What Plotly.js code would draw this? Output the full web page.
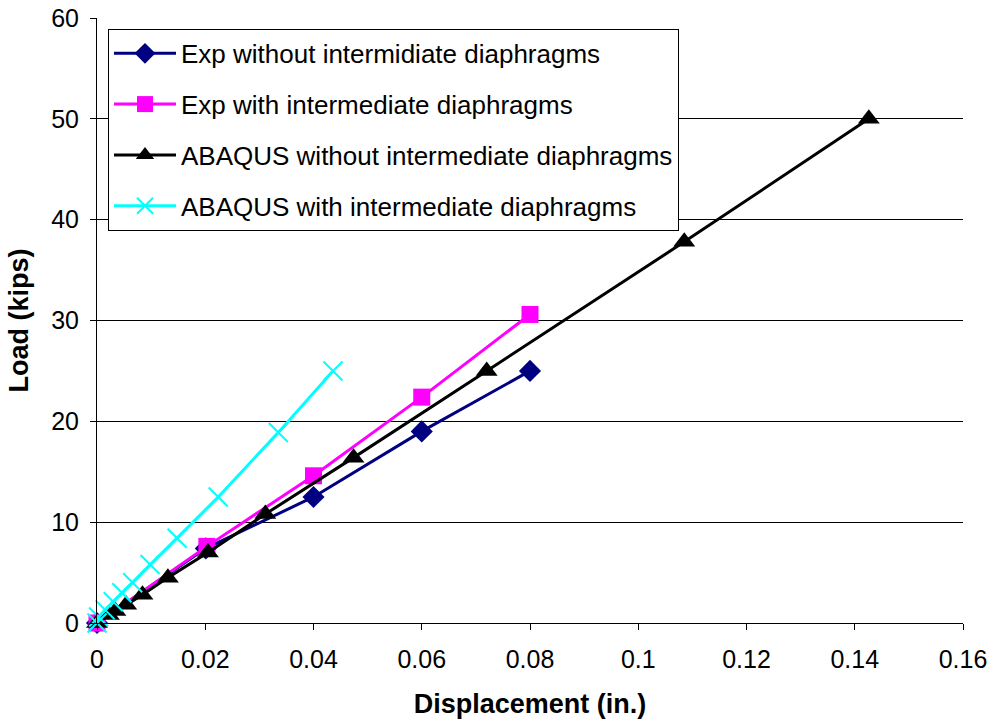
<!DOCTYPE html>
<html>
<head>
<meta charset="utf-8">
<script src="https://cdn.plot.ly/plotly-3.0.1.min.js"></script>
<style>html,body{margin:0;padding:0;background:#fff}#chart{width:996px;height:723px}</style>
</head>
<body>
<div id="chart"></div>
<script>
// Exp without intermediate diaphragms
const expWithoutX = [0, 0.0201, 0.0400, 0.0600, 0.0800];
const expWithoutY = [0, 7.4, 12.5, 19.0, 25.0];
// Exp with intermediate diaphragms
const expWithX = [0, 0.0203, 0.0400, 0.0600, 0.0800];
const expWithY = [0, 7.6, 14.6, 22.4, 30.6];
// ABAQUS without intermediate diaphragms
const abqWithoutX = [0, 0.0022, 0.0034, 0.0054, 0.0084, 0.0131, 0.0205, 0.0311, 0.0474, 0.0720, 0.1085, 0.1426];
const abqWithoutY = [0, 0.8, 1.2, 1.8, 2.8, 4.5, 7.0, 10.8, 16.4, 25.0, 37.8, 50.0];
// ABAQUS with intermediate diaphragms
const abqWithX = [0, 0.0003, 0.0015, 0.0030, 0.0046, 0.0066, 0.0098, 0.0148, 0.0224, 0.0335, 0.0436];
const abqWithY = [0, 0.6, 1.3, 2.1, 3.0, 4.0, 5.8, 8.4, 12.5, 18.9, 25.0];

const xTicks = [0, 0.02, 0.04, 0.06, 0.08, 0.1, 0.12, 0.14, 0.16];
const yTicks = [0, 10, 20, 30, 40, 50, 60];

const names = [
  "Exp without intermidiate diaphragms",
  "Exp with intermediate diaphragms",
  "ABAQUS without intermediate diaphragms",
  "ABAQUS with intermediate diaphragms"
];

const traces = [
  {x: expWithoutX, y: expWithoutY, name: names[0], legendgroup: "a",
   mode: "lines+markers", type: "scatter", cliponaxis: false,
   line: {color: "#000080", width: 3},
   marker: {symbol: "diamond", size: 17, color: "#000080"}},
  {x: expWithX, y: expWithY, name: names[1], legendgroup: "b",
   mode: "lines+markers", type: "scatter", cliponaxis: false,
   line: {color: "#FF00FF", width: 3},
   marker: {symbol: "square", size: 17, color: "#FF00FF"}},
  {x: abqWithoutX, y: abqWithoutY, name: names[2], legendgroup: "c",
   mode: "lines+markers", type: "scatter", cliponaxis: false,
   line: {color: "#000000", width: 3},
   marker: {symbol: "triangle-up", size: 19, color: "#000000"}},
  {x: abqWithX, y: abqWithY, name: names[3], legendgroup: "d",
   mode: "lines+markers", type: "scatter", cliponaxis: false,
   line: {color: "#00FFFF", width: 3},
   marker: {symbol: "x-thin", size: 19, color: "#00FFFF", line: {color: "#00FFFF", width: 2}}}
];

const layout = {
  width: 996, height: 723,
  margin: {l: 97, r: 33, t: 18, b: 100},
  paper_bgcolor: "#ffffff", plot_bgcolor: "#ffffff",
  font: {family: "Liberation Sans, Arial, sans-serif", size: 25, color: "#000"},
  showlegend: true,
  legend: {
    x: 0.0127, y: 0.982, xanchor: "left", yanchor: "top",
    bgcolor: "#ffffff", bordercolor: "#000", borderwidth: 1,
    font: {size: 26, family: "Liberation Sans, Arial, sans-serif"},
    tracegroupgap: 14, traceorder: "grouped",
    itemwidth: 62
  },
  xaxis: {
    range: [0, 0.16], tickvals: xTicks, ticktext: xTicks.map(String),
    showgrid: false, zeroline: false,
    showline: true, linecolor: "#000", linewidth: 1,
    ticks: "outside", ticklen: 6, tickcolor: "#000",
    tickfont: {size: 25}, ticklabelstandoff: 8,
    title: {text: "<b>Displacement (in.)</b>", font: {size: 27}, standoff: 22}
  },
  yaxis: {
    range: [0, 60], tickvals: yTicks, ticktext: yTicks.map(String),
    showgrid: true, gridcolor: "#000", gridwidth: 1,
    zeroline: false,
    showline: true, linecolor: "#000", linewidth: 1,
    ticks: "outside", ticklen: 6, tickcolor: "#000",
    tickfont: {size: 25}, ticklabelstandoff: 6,
    title: {text: "<b>Load (kips)</b>", font: {size: 27}, standoff: 14}
  }
};

Plotly.newPlot("chart", traces, layout, {displayModeBar: false, staticPlot: true});
</script>
</body>
</html>
